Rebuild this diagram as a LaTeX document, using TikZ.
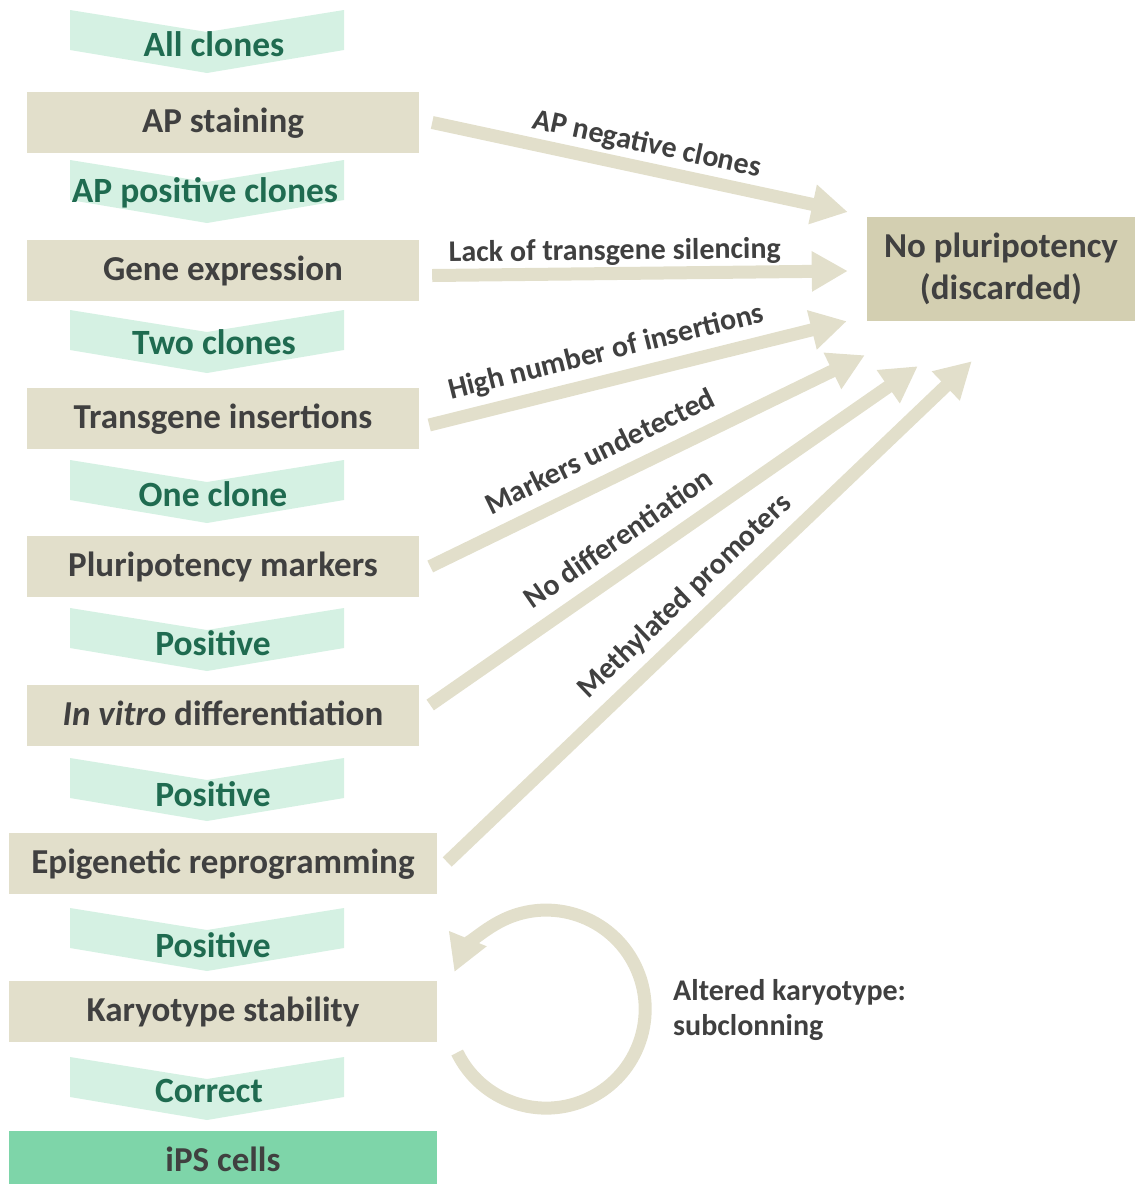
\documentclass[tikz,border=0pt]{standalone}
\usepackage{fontspec}
\setmainfont{Carlito}
\usetikzlibrary{arrows.meta,calc}
\definecolor{boxc}{HTML}{E2DFCB}
\definecolor{npc}{HTML}{D3CFB1}
\definecolor{chevc}{HTML}{D5F1E3}
\definecolor{chevt}{HTML}{1F6B50}
\definecolor{txt}{HTML}{404040}
\definecolor{ipsc}{HTML}{7ED5A9}
\begin{document}
\begin{tikzpicture}[x=1pt,y=-1pt,
  stepbox/.style={fill=boxc, draw=none, minimum width=392pt, minimum height=61pt,
    inner sep=0pt, text=txt, text height=25pt, text depth=5pt,
    font=\fontsize{35}{41}\selectfont\bfseries},
  widebox/.style={stepbox, minimum width=428pt},
  chevtext/.style={text=chevt, inner sep=0pt, text height=25pt, text depth=5pt,
    font=\fontsize{35.5}{41}\selectfont\bfseries},
  chevron/.pic={\fill[chevc] (-137,0) -- (0,22) -- (137,0) -- (137,40) -- (0,63) -- (-137,40) -- cycle;},
  flow/.style={draw=boxc, line width=13pt, -{Triangle[length=36pt,width=38pt]}},
  lbl/.style={text=txt, font=\fontsize{30}{36}\selectfont\bfseries, sloped, above=7pt,
    inner sep=0pt, text height=21pt, text depth=6pt},
]
\useasboundingbox (0,0) rectangle (1135,1184);

% chevrons
\pic at (207,10) {chevron};
\pic at (207,160) {chevron};
\pic at (207,310) {chevron};
\pic at (207,460) {chevron};
\pic at (207,608) {chevron};
\pic at (207,758) {chevron};
\pic at (207,908) {chevron};
\pic at (207,1057) {chevron};

\node[chevtext] (c1) at (214,46) {All clones};
\node[chevtext] (c2) at (205,192) {AP positive clones};
\node[chevtext] (c3) at (214,344) {Two clones};
\node[chevtext] (c4) at (213,496) {One clone};
\node[chevtext] (c5) at (213,645) {Positive};
\node[chevtext] (c6) at (213,796) {Positive};
\node[chevtext] (c7) at (213,947) {Positive};
\node[chevtext] (c8) at (209,1092) {Correct};

% boxes
\node[stepbox] (ap) at (223,122.5) {AP staining};
\node[stepbox] (ge) at (223,270.5) {Gene expression};
\node[stepbox] (ti) at (223,418) {Transgene insertions};
\node[stepbox] (pm) at (223,566.5) {Pluripotency markers};
\node[stepbox] (iv) at (223,715) {{\itshape In vitro} differentiation};
\node[widebox] (er) at (223,863) {Epigenetic reprogramming};
\node[widebox] (ks) at (223,1011.5) {Karyotype stability};
\node[widebox, fill=ipsc] (ips) at (223,1161.5) {iPS cells};

\node[fill=npc, minimum width=268pt, minimum height=104pt, inner sep=0pt, text=txt,
  align=center, font=\fontsize{35}{42}\selectfont\bfseries] (np) at (1001,268.5) {No pluripotency\\(discarded)};

% arrows
\coordinate (t1) at ($(np.west)+(-19,-56.5)$);
\coordinate (t2) at ($(np.west)+(-19,2.5)$);
\coordinate (t3) at ($(np.south west)+(-20,0.5)$);
\coordinate (t4) at ($(np.south west)+(-2,34.5)$);
\coordinate (t5) at ($(np.south west)+(51,45.5)$);
\coordinate (t6) at ($(np.south west)+(105,40.5)$);

\draw[flow] ($(ap.east)+(13,0)$) -- node[lbl, above=-4pt, pos=0.505] {AP negative clones} (t1);
\draw[flow] ($(ge.east)+(13,5)$) -- node[lbl, above=-6pt, pos=0.44] {Lack of transgene silencing} (t2);
\draw[flow] ($(ti.east)+(10,7)$) -- node[lbl, pos=0.44] {High number of insertions} (t3);
\draw[flow] ($(pm.east)+(11,0)$) -- node[lbl, pos=0.42] {Markers undetected} (t4);
\draw[flow] ($(iv.east)+(11,-10)$) -- node[lbl, pos=0.42] {No differentiation} (t5);
\draw[flow] ($(er.east)+(10,-1)$) -- node[lbl, pos=0.49] {Methylated promoters} (t6);

% loop
\draw[draw=boxc, line width=13pt, -{Triangle[length=36pt,width=38pt]}]
  ($(ks.east)+(20,41)$) arc[start angle=154, end angle=-158, radius=99];
\node[anchor=base west, align=left, text=txt, inner sep=0pt,
  font=\fontsize{30}{35}\selectfont\bfseries] (ak) at (673,1035) {Altered karyotype:\\subclonning};
\end{tikzpicture}
\end{document}
